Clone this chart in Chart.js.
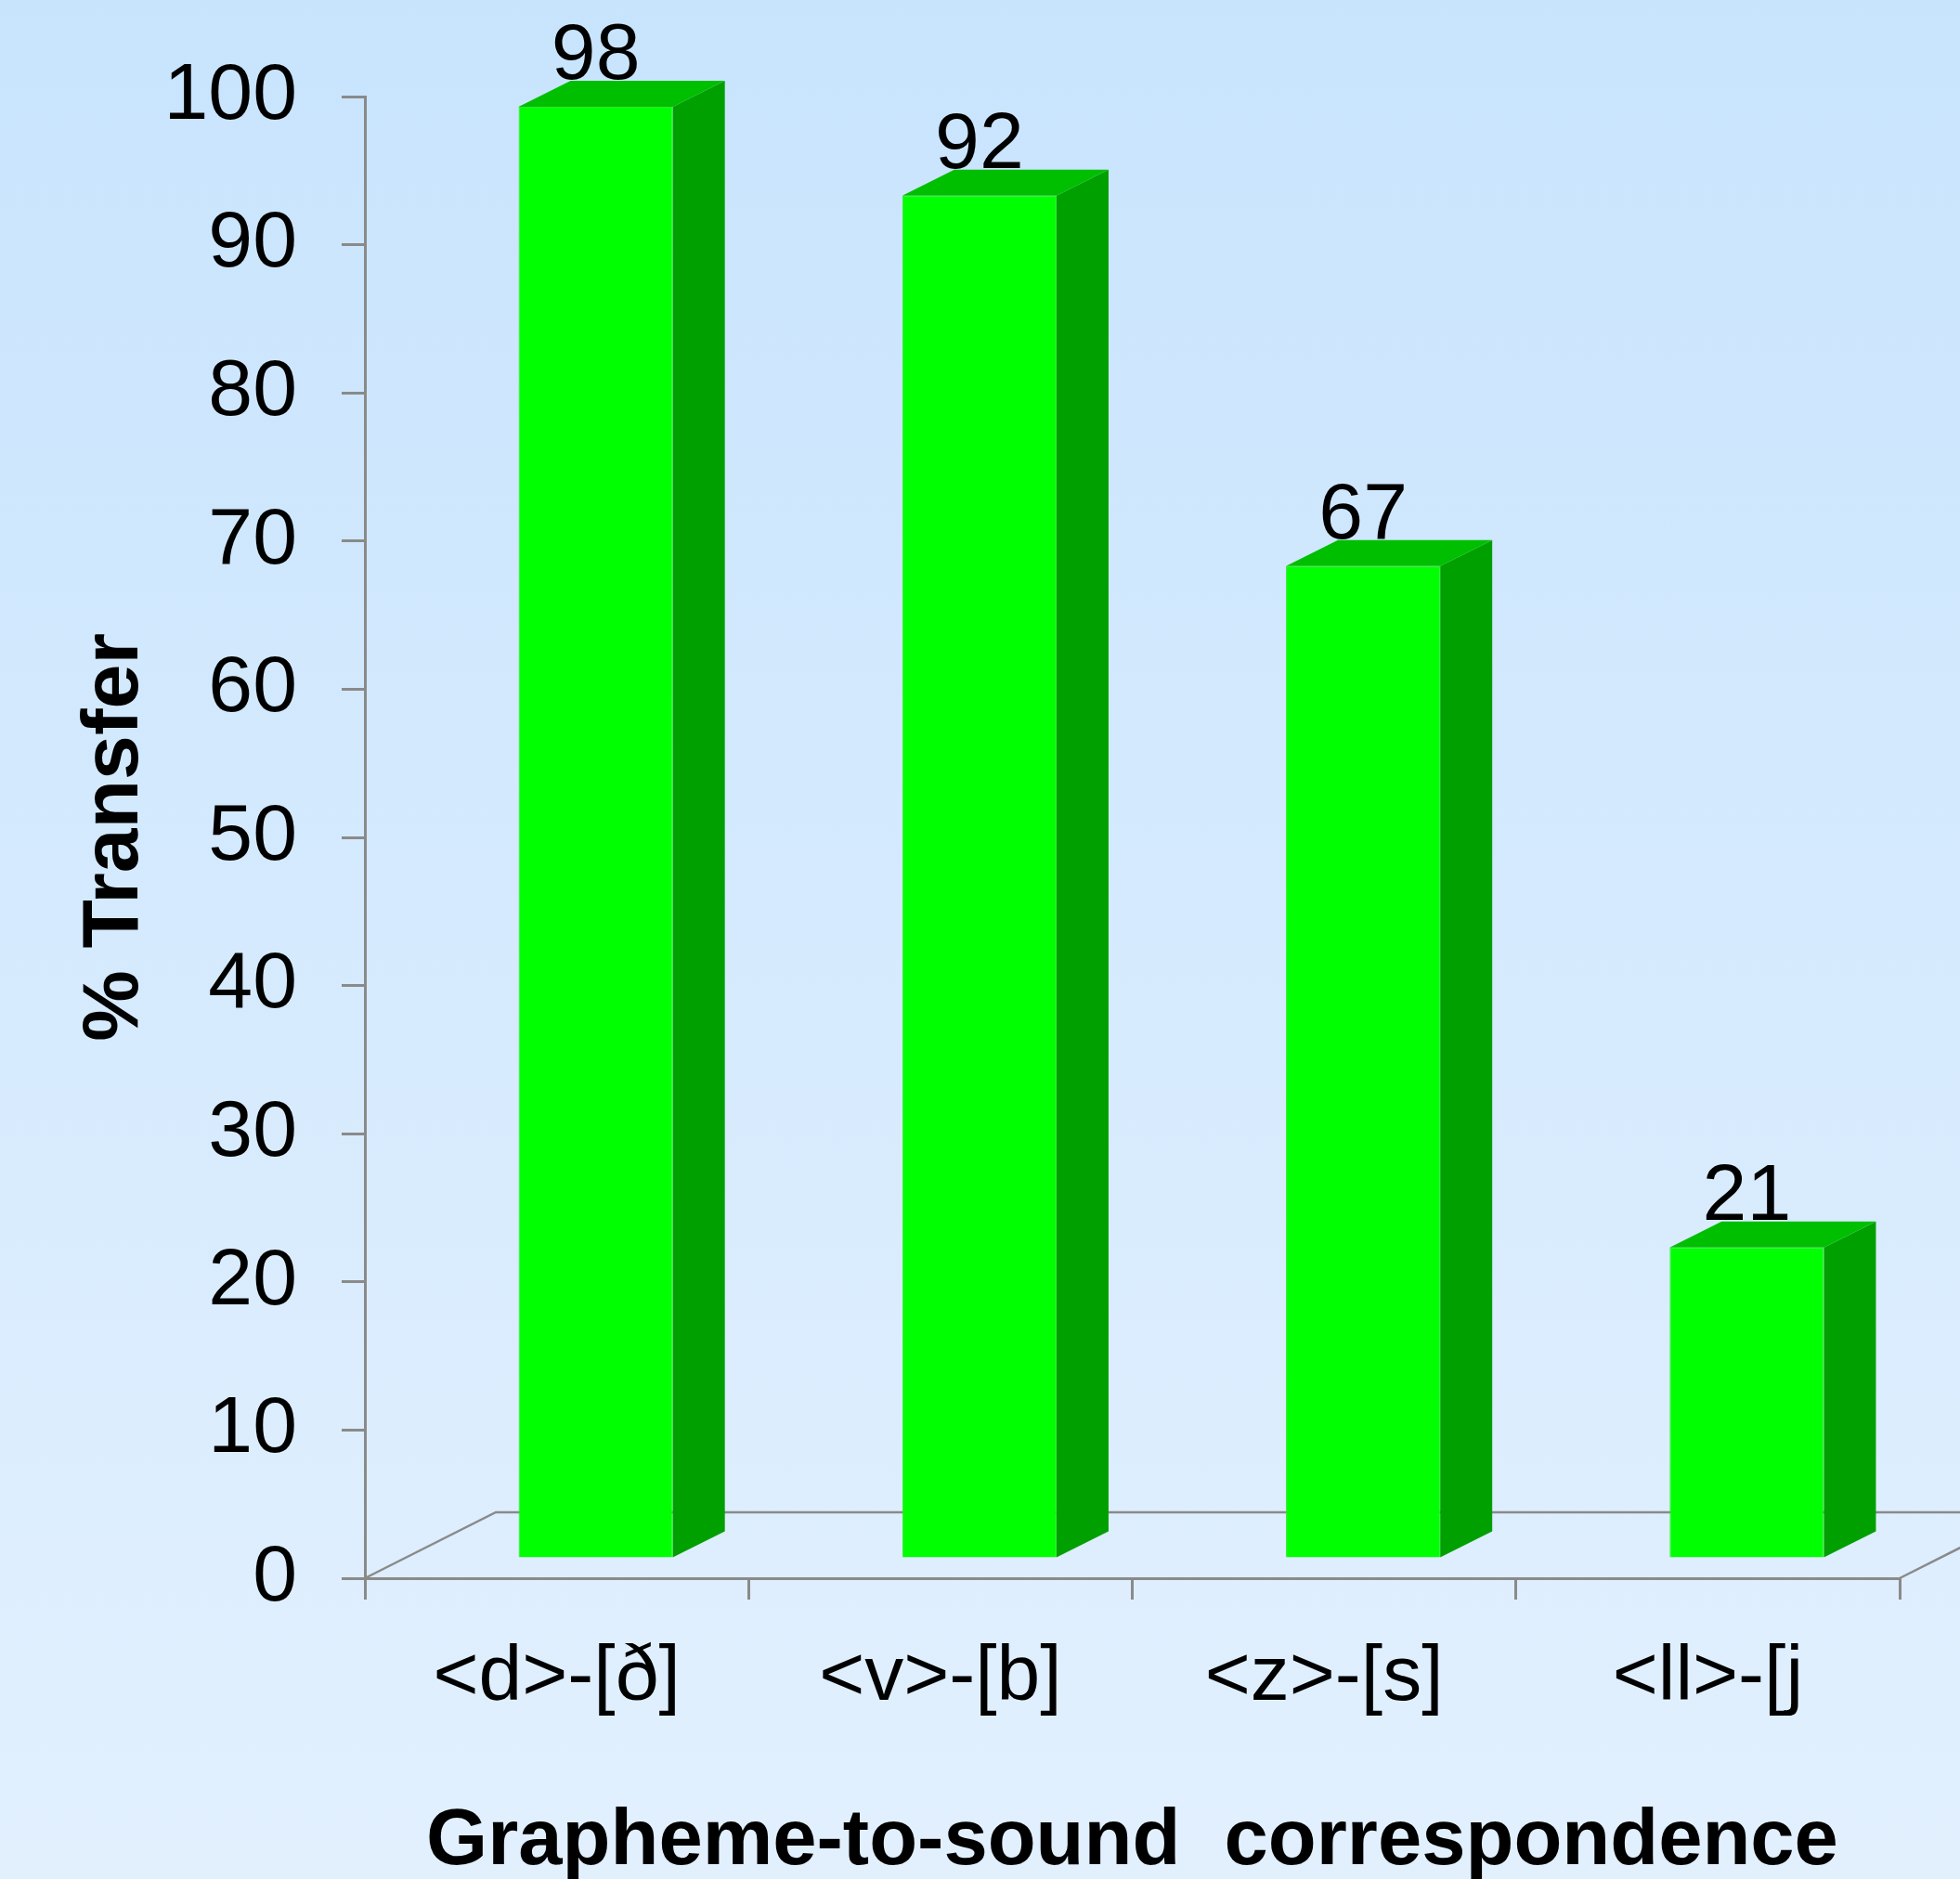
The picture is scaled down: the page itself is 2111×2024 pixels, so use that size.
<!DOCTYPE html>
<html>
<head>
<meta charset="utf-8">
<title>Grapheme-to-sound correspondence transfer</title>
<script src="https://cdn.jsdelivr.net/npm/chart.js@4.4.1/dist/chart.umd.min.js"></script>
<style>
  html, body { margin: 0; padding: 0; overflow: hidden; background: #d6eafd; }
  canvas { display: block; }
</style>
</head>
<body>
<canvas id="chart" width="2111" height="2024"></canvas>
<script>
// ---- data ----
const categories = ['<d>-[ð]', '<v>-[b]', '<z>-[s]', '<ll>-[j'];
const transferPct = [98, 92, 67, 21];
const yTickValues = [0, 10, 20, 30, 40, 50, 60, 70, 80, 90, 100];

// ---- styling ----
const FONT = '"Liberation Sans", Arial, Helvetica, sans-serif';
const AXIS_COLOR = '#8a8a8a';
const FRONT_COLOR = '#00ff00';
const SIDE_COLOR = '#00a000';
const TOP_COLOR = '#00bf00';

// pseudo-3D geometry (pixels)
const FLOOR_DX = 141, FLOOR_DY = 71;   // depth of the floor plane
const FRONT_DX = 42, FRONT_DY = 21;    // bar front face set back from the axis plane
const DEPTH_DX = 56, DEPTH_DY = 28;    // bar depth

const bar3d = {
  id: 'bar3d',
  beforeDraw(chart) {
    const { ctx, width, height } = chart;
    const g = ctx.createLinearGradient(0, 0, 0, height);
    g.addColorStop(0, '#c8e4fd');
    g.addColorStop(1, '#e2f0fe');
    ctx.save();
    ctx.fillStyle = g;
    ctx.fillRect(0, 0, width, height);
    ctx.restore();
  },
  beforeDatasetsDraw(chart) {
    const { ctx, chartArea: { left, right, bottom } } = chart;
    // floor outline
    ctx.save();
    ctx.strokeStyle = AXIS_COLOR;
    ctx.lineWidth = 2.5;
    ctx.beginPath();
    ctx.moveTo(left, bottom);
    ctx.lineTo(left + FLOOR_DX, bottom - FLOOR_DY);
    ctx.lineTo(chart.width + 20, bottom - FLOOR_DY);
    ctx.moveTo(right, bottom);
    ctx.lineTo(right + FLOOR_DX, bottom - FLOOR_DY);
    ctx.stroke();
    ctx.restore();
    // front faces are drawn by the bar controller, pushed back into the floor
    ctx.save();
    ctx.translate(FRONT_DX, -FRONT_DY);
  },
  afterDatasetsDraw(chart) {
    const ctx = chart.ctx;
    ctx.restore();
    const meta = chart.getDatasetMeta(0);
    meta.data.forEach((bar, i) => {
      const { x, y, base, width } = bar.getProps(['x', 'y', 'base', 'width'], true);
      const l = x - width / 2 + FRONT_DX;
      const r = x + width / 2 + FRONT_DX;
      const t = y - FRONT_DY;
      const b = base - FRONT_DY;
      ctx.save();
      // side face
      ctx.fillStyle = SIDE_COLOR;
      ctx.beginPath();
      ctx.moveTo(r, t);
      ctx.lineTo(r + DEPTH_DX, t - DEPTH_DY);
      ctx.lineTo(r + DEPTH_DX, b - DEPTH_DY);
      ctx.lineTo(r, b);
      ctx.closePath();
      ctx.fill();
      // top face
      ctx.fillStyle = TOP_COLOR;
      ctx.beginPath();
      ctx.moveTo(l, t);
      ctx.lineTo(l + DEPTH_DX, t - DEPTH_DY);
      ctx.lineTo(r + DEPTH_DX, t - DEPTH_DY);
      ctx.lineTo(r, t);
      ctx.closePath();
      ctx.fill();
      // value label
      ctx.fillStyle = '#000';
      ctx.font = '86px ' + FONT;
      ctx.textAlign = 'center';
      ctx.textBaseline = 'alphabetic';
      ctx.fillText(String(transferPct[i]), x + FRONT_DX, t - DEPTH_DY - 2);
      ctx.restore();
    });
  }
};

new Chart(document.getElementById('chart'), {
  type: 'bar',
  data: {
    labels: categories,
    datasets: [{
      data: transferPct,
      backgroundColor: FRONT_COLOR,
      borderColor: '#2ee82e',
      borderWidth: 1,
      categoryPercentage: 1,
      barPercentage: 0.402,
      clip: false
    }]
  },
  options: {
    responsive: false,
    animation: false,
    events: [],
    layout: { padding: { top: 104, right: 65, bottom: 0, left: 0 } },
    plugins: { legend: { display: false }, tooltip: { enabled: false } },
    scales: {
      x: {
        offset: true,
        grid: { display: true, offset: true, drawOnChartArea: false, drawTicks: true, tickLength: 23, color: AXIS_COLOR, lineWidth: 3 },
        border: { display: true, color: AXIS_COLOR, width: 3 },
        ticks: { color: '#000', font: { family: FONT, size: 84 }, padding: 34, maxRotation: 0, autoSkip: false },
        title: {
          display: true,
          text: 'Grapheme-to-sound  correspondence',
          color: '#000',
          font: { family: FONT, size: 85, weight: 'bold', lineHeight: 0.9 },
          padding: { top: 0, bottom: 1 }
        },
        afterFit(scale) {
          scale.height = 324;
          scale.paddingLeft = 0; scale.paddingRight = 0;
        }
      },
      y: {
        min: yTickValues[0],
        max: yTickValues[yTickValues.length - 1],
        afterBuildTicks(scale) { scale.ticks = yTickValues.map(v => ({ value: v })); },
        grid: { display: true, drawOnChartArea: false, drawTicks: true, tickLength: 25, color: AXIS_COLOR, lineWidth: 3 },
        border: { display: true, color: AXIS_COLOR, width: 3 },
        ticks: { color: '#000', font: { family: FONT, size: 86 }, padding: 48 },
        title: {
          display: true,
          text: '% Transfer',
          color: '#000',
          font: { family: FONT, size: 86, weight: 'bold' },
          padding: { top: 73, bottom: 0 }
        },
        afterFit(scale) {
          scale.width = 393;
          scale.paddingTop = 0; scale.paddingBottom = 0;
        }
      }
    }
  },
  plugins: [bar3d]
});
</script>
</body>
</html>
